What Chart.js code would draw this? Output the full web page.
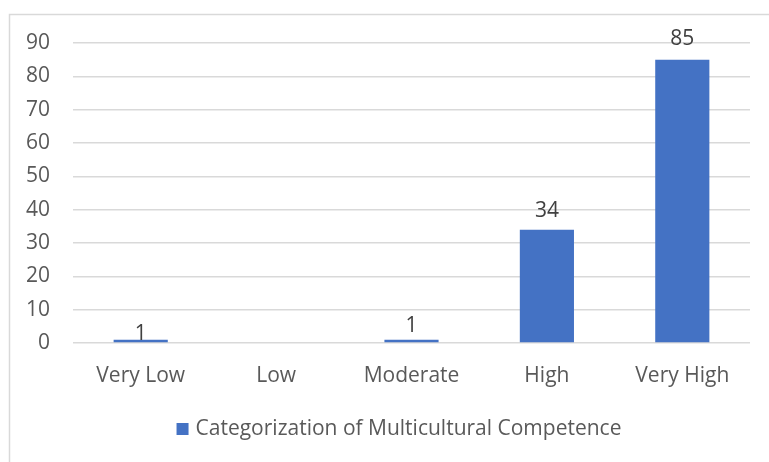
<!DOCTYPE html>
<html>
<head>
<meta charset="utf-8">
<script src="https://cdn.jsdelivr.net/npm/chart.js@4.4.1/dist/chart.umd.min.js"></script>
<style>
  html, body { margin: 0; padding: 0; background: #fff; }
  #wrap { width: 769px; height: 462px; position: relative; }
</style>
</head>
<body>
<div id="wrap"><canvas id="myChart" width="769" height="462"></canvas></div>
<script>
var categories = ['Very Low', 'Low', 'Moderate', 'High', 'Very High'];
var counts = [1, 0, 1, 34, 85];
var seriesName = 'Categorization of Multicultural Competence';
var yTicks = [0, 10, 20, 30, 40, 50, 60, 70, 80, 90];

// gap between bar top and label baseline (px), as in the original layout
var labelGap = [0, 0, 8, 13, 15];

var barBlue = '#4472C4';
var textGrey = '#595959';
var fontFamily = "'Open Sans', 'Noto Sans', sans-serif";
var fontSize = 21;

// white page + light frame round the chart
var frame = {
    id: 'frame',
    beforeDraw: function (chart) {
        var c = chart.ctx;
        c.save();
        c.fillStyle = '#fff';
        c.fillRect(0, 0, chart.width, chart.height);
        c.strokeStyle = '#d9d9d9';
        c.lineWidth = 1.5;
        c.strokeRect(9.5, 14.5, 800, 480);
        c.restore();
    }
};

// value labels above bars
var valueLabels = {
    id: 'valueLabels',
    afterDatasetsDraw: function (chart) {
        var c = chart.ctx;
        var meta = chart.getDatasetMeta(0);
        c.save();
        c.font = fontSize + 'px ' + fontFamily;
        c.fillStyle = '#404040';
        c.textAlign = 'center';
        c.textBaseline = 'alphabetic';
        meta.data.forEach(function (bar, i) {
            var v = counts[i];
            if (!v) return;
            c.fillText(String(v), bar.x, bar.y - labelGap[i]);
        });
        c.restore();
    }
};

// legend below the axis, centred a bit right of the page like the original
var bottomLegend = {
    id: 'bottomLegend',
    afterDraw: function (chart) {
        var c = chart.ctx;
        c.save();
        c.font = fontSize + 'px ' + fontFamily;
        var w = c.measureText(seriesName).width;
        var box = 12, gap = 7;
        var total = box + gap + w;
        var x0 = 399 - total / 2;
        var yc = 429;
        c.fillStyle = barBlue;
        c.fillRect(x0, yc - box / 2, box, box);
        c.fillStyle = textGrey;
        c.textAlign = 'left';
        c.textBaseline = 'middle';
        c.fillText(seriesName, x0 + box + gap, yc);
        c.restore();
    }
};

var ctx = document.getElementById('myChart').getContext('2d');
var myChart = new Chart(ctx, {
    type: 'bar',
    data: {
        labels: categories,
        datasets: [{
            label: seriesName,
            data: counts,
            backgroundColor: barBlue,
            borderWidth: 0,
            barPercentage: 0.4,
            categoryPercentage: 1.0
        }]
    },
    options: {
        responsive: false,
        animation: false,
        layout: {
            padding: { left: 0, right: 19, top: 43, bottom: 53 }
        },
        plugins: {
            legend: { display: false },
            tooltip: { enabled: false }
        },
        scales: {
            x: {
                grid: { display: false, drawTicks: false },
                border: { display: false },
                ticks: {
                    color: textGrey,
                    font: { family: fontFamily, size: fontSize },
                    padding: 20,
                    maxRotation: 0
                },
                afterFit: function (scale) { scale.height = 66; }
            },
            y: {
                min: 0,
                max: 90,
                afterBuildTicks: function (scale) {
                    scale.ticks = yTicks.map(function (t) { return { value: t }; });
                },
                grid: { color: '#d9d9d9', lineWidth: 1.5, drawTicks: false },
                border: { display: false },
                ticks: {
                    color: textGrey,
                    font: { family: fontFamily, size: fontSize },
                    padding: 23
                },
                afterFit: function (scale) { scale.width = 73; }
            }
        }
    },
    plugins: [frame, valueLabels, bottomLegend]
});
</script>
</body>
</html>
